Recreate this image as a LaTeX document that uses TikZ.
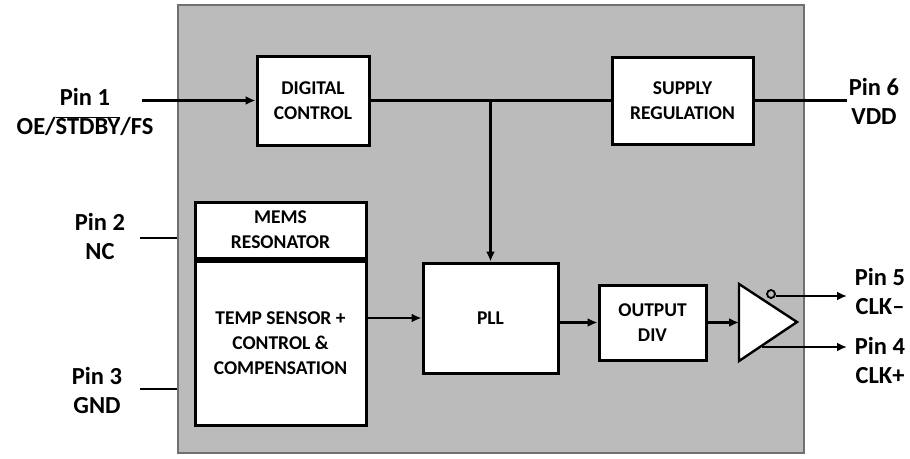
\documentclass[tikz,border=0pt]{standalone}
\usepackage{fontspec}
\setmainfont{Carlito}
\usepackage{tikz}
\usetikzlibrary{arrows.meta, positioning}
\definecolor{chipgray}{RGB}{187, 187, 187}
\definecolor{chipedge}{RGB}{112, 112, 112}

\begin{document}
\begin{tikzpicture}[
  x=1pt, y=-1pt,
  block/.style={rectangle, draw, line width=3pt, fill=white,
                inner sep=0pt, align=center,
                font=\bfseries\fontsize{19.5}{25}\selectfont},
  pin/.style={align=center, font=\bfseries\fontsize{24.5}{29}\selectfont},
  arr/.style={-{Latex[length=10pt, width=9pt]}, line width=2.6pt},
  wire/.style={line width=2.6pt}
]
  \useasboundingbox (0,0) rectangle (910,458);

  % package body
  \node[rectangle, draw=chipedge, line width=1.4pt, fill=chipgray,
        minimum width=626pt, minimum height=448pt, inner sep=0pt] (chip) at (491,229) {};

  \node[block, minimum width=112pt, minimum height=89pt] (dig) at (313,100.5)
    {DIGITAL\\CONTROL};
  \node[block, minimum width=141pt, minimum height=87pt] (sup) at (682.5,100.5)
    {SUPPLY\\REGULATION};
  \node[block, minimum width=171pt, minimum height=56pt] (mems) at (280.5,230)
    {MEMS\\RESONATOR};
  \node[block, minimum width=171pt, minimum height=164pt, below=0pt of mems] (temp)
    {TEMP SENSOR +\\CONTROL \&\\COMPENSATION};
  \node[block, minimum width=135pt, minimum height=110pt] (pll) at (490.5,318)
    {PLL};
  \node[block, minimum width=107pt, minimum height=75pt] (div) at (652.5,322.5)
    {OUTPUT\\DIV};

  % output driver
  \coordinate (drvtop) at (739,284);
  \coordinate (drvbot) at (739,361);
  \coordinate (drvtip) at (797,322);
  \draw[line width=2.4pt, fill=white, line join=miter] (drvtop) -- (drvtip) -- (drvbot) -- cycle;
  \node[circle, draw, line width=1.8pt, inner sep=0pt, minimum size=8pt] (bub) at (771,294) {};

  % pins
  \coordinate (p1) at (142,100.5);
  \coordinate (p2) at (140,238);
  \coordinate (p3) at (140,389);
  \coordinate (p6) at (847,100.5);
  \coordinate (p5) at (847,296);
  \coordinate (p4) at (847,347);
  \coordinate (bus) at (490.5,100.5);
  \coordinate (drvout) at (762,347);

  \node[pin] (l1) at (85,112) {Pin 1\\OE/$\overline{\mbox{STDBY}}$/FS};
  \node[pin] (l2) at (100,236) {Pin 2\\NC};
  \node[pin] (l3) at (97,390) {Pin 3\\GND};
  \node[pin] (l6) at (874,101) {Pin 6\\VDD};
  \node[pin] (l5) at (880,291) {Pin 5\\CLK–};
  \node[pin] (l4) at (880,360) {Pin 4\\CLK+};

  \draw[arr] (p1) -- (dig.west);
  \draw[wire] (dig.east) -- (sup.west);
  \draw[wire] (sup.east) -- (p6);
  \draw[arr] (bus) -- (pll.north);
  \draw[wire] (p2) -- (p2 -| chip.west);
  \draw[wire] (p3) -- (p3 -| chip.west);
  \draw[arr] (temp.east |- pll.west) -- (pll.west);
  \draw[arr] (pll.east |- div.west) -- (div.west);
  \draw[arr] (div.east) -- (drvtop |- div.east);
  \draw[arr] (bub.east |- p5) -- (p5);
  \draw[arr] (drvout) -- (p4);

\end{tikzpicture}
\end{document}
